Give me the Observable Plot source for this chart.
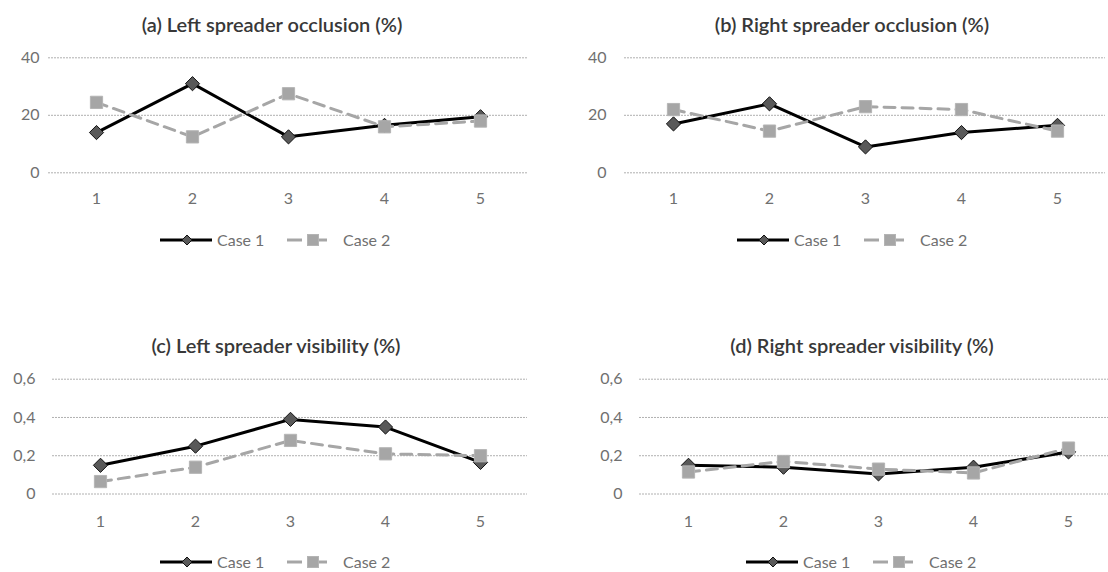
<!DOCTYPE html>
<html>
<head>
<meta charset="utf-8">
<script src="https://cdn.jsdelivr.net/npm/d3@7"></script>
<script src="https://cdn.jsdelivr.net/npm/@observablehq/plot@0.6"></script>
<style>
  html, body { margin: 0; padding: 0; background: #fff; overflow: hidden; }
  #chart { position: relative; width: 1108px; height: 572px; overflow: hidden; font-family: Lato, "Open Sans", sans-serif; }
  .title { position: absolute; width: 400px; text-align: center; font-size: 20px; font-weight: 600; color: #383838; line-height: 22px; white-space: nowrap; }
  .legend-text { position: absolute; font-size: 16px; color: #707070; line-height: 18px; white-space: nowrap; }
  .swatch { position: absolute; }
  .panel { position: absolute; }
  .panel svg { max-width: none !important; }
</style>
</head>
<body>
<div id="chart"></div>
<script>
// ---- data ----
const categories = [1, 2, 3, 4, 5];
const seriesNames = ["Case 1", "Case 2"];

const titles = [
  "(a) Left spreader occlusion (%)",
  "(b) Right spreader occlusion (%)",
  "(c) Left spreader visibility (%)",
  "(d) Right spreader visibility (%)"
];

const leftOcclusionCase1 = [14, 31, 12.5, 16.5, 19.5];
const leftOcclusionCase2 = [24.5, 12.5, 27.5, 16, 18];
const rightOcclusionCase1 = [17, 24, 9, 14, 16.5];
const rightOcclusionCase2 = [22, 14.5, 23, 22, 14.5];
const leftVisibilityCase1 = [0.15, 0.25, 0.39, 0.35, 0.165];
const leftVisibilityCase2 = [0.065, 0.14, 0.28, 0.21, 0.2];
const rightVisibilityCase1 = [0.15, 0.14, 0.105, 0.14, 0.22];
const rightVisibilityCase2 = [0.115, 0.17, 0.13, 0.11, 0.24];

const occlusionTicks = [0, 20, 40];
const visibilityTicks = [0, 0.2, 0.4, 0.6];

// ---- drawing ----
const chart = document.getElementById("chart");
const toRows = (vals) => categories.map((c, i) => ({cat: c, v: vals[i]}));
const commaFmt = (d) => d === 0 ? "0" : d.toFixed(1).replace(".", ",");

function panel(opts) {
  const {c1, c2, ticks, yMax, fmt, left, top, width, height, ml, mr, mt, mb, yPad, xPad, title, titleCx, titleCy, legX, legY} = opts;
  const d1 = toRows(c1), d2 = toRows(c2);
  const svg = Plot.plot({
    width, height,
    marginLeft: ml, marginRight: mr, marginTop: mt, marginBottom: mb,
    style: {fontFamily: "Lato, 'Open Sans', sans-serif", fontSize: "16px", color: "#707070", background: "transparent"},
    x: {type: "point", domain: categories, padding: 0.5, label: null},
    y: {domain: [0, yMax], label: null},
    marks: [
      Plot.ruleY(ticks, {stroke: "#b0b0b0", strokeWidth: 1, strokeDasharray: "2,1"}),
      Plot.axisY({ticks, tickSize: 0, tickPadding: yPad, tickFormat: fmt, fill: "#707070", label: null}),
      Plot.axisX({tickSize: 0, tickPadding: xPad, fill: "#707070", label: null}),
      Plot.line(d1, {x: "cat", y: "v", stroke: "#000", strokeWidth: 3}),
      Plot.dot(d1, {x: "cat", y: "v", symbol: "diamond2", r: 6.4, fill: "#595959", stroke: "#111", strokeWidth: 1}),
      Plot.line(d2, {x: "cat", y: "v", stroke: "#a6a6a6", strokeWidth: 3, strokeDasharray: "11,7"}),
      Plot.dot(d2, {x: "cat", y: "v", symbol: "square", r: 6.9, fill: "#a6a6a6", stroke: "#b4b4b4", strokeWidth: 1})
    ]
  });
  const div = document.createElement("div");
  div.className = "panel";
  div.style.left = left + "px";
  div.style.top = top + "px";
  div.style.width = width + "px";
  div.style.height = height + "px";
  div.appendChild(svg);
  chart.appendChild(div);

  const t = document.createElement("div");
  t.className = "title";
  t.textContent = title;
  t.style.left = (titleCx - 200) + "px";
  t.style.top = (titleCy - 11) + "px";
  chart.appendChild(t);

  // legend
  const ns = "http://www.w3.org/2000/svg";
  const sw1 = document.createElementNS(ns, "svg");
  sw1.setAttribute("class", "swatch");
  sw1.setAttribute("width", 54); sw1.setAttribute("height", 16);
  sw1.style.left = legX + "px"; sw1.style.top = (legY - 8) + "px";
  sw1.innerHTML = `<line x1="0" y1="8" x2="52" y2="8" stroke="#000" stroke-width="3"/>
    <path d="M27,3 L32,8 L27,13 L22,8 Z" fill="#595959" stroke="#111" stroke-width="1"/>`;
  chart.appendChild(sw1);
  const l1 = document.createElement("div");
  l1.className = "legend-text"; l1.textContent = seriesNames[0];
  l1.style.left = (legX + 57) + "px"; l1.style.top = (legY - 9) + "px";
  chart.appendChild(l1);
  const sw2 = document.createElementNS(ns, "svg");
  sw2.setAttribute("class", "swatch");
  sw2.setAttribute("width", 42); sw2.setAttribute("height", 16);
  sw2.style.left = (legX + 127) + "px"; sw2.style.top = (legY - 8) + "px";
  sw2.innerHTML = `<line x1="0" y1="8" x2="15" y2="8" stroke="#a6a6a6" stroke-width="3"/>
    <line x1="31" y1="8" x2="40" y2="8" stroke="#a6a6a6" stroke-width="3"/>
    <rect x="20.5" y="2.5" width="11" height="11" fill="#a6a6a6" stroke="#b4b4b4" stroke-width="1"/>`;
  chart.appendChild(sw2);
  const l2 = document.createElement("div");
  l2.className = "legend-text"; l2.textContent = seriesNames[1];
  l2.style.left = (legX + 183) + "px"; l2.style.top = (legY - 9) + "px";
  chart.appendChild(l2);
}

panel({c1: leftOcclusionCase1, c2: leftOcclusionCase2, ticks: occlusionTicks, yMax: 40, fmt: d => String(d),
  left: 0, top: 0, width: 554, height: 260, ml: 48, mr: 26, mt: 57.3, mb: 87.7, yPad: 9, xPad: 20,
  title: titles[0], titleCx: 272, titleCy: 24, legX: 160, legY: 240});
panel({c1: rightOcclusionCase1, c2: rightOcclusionCase2, ticks: occlusionTicks, yMax: 40, fmt: d => String(d),
  left: 554, top: 0, width: 554, height: 260, ml: 70, mr: 3, mt: 57.3, mb: 87.7, yPad: 18, xPad: 20,
  title: titles[1], titleCx: 852, titleCy: 24, legX: 737, legY: 240});
panel({c1: leftVisibilityCase1, c2: leftVisibilityCase2, ticks: visibilityTicks, yMax: 0.6, fmt: commaFmt,
  left: 0, top: 320, width: 554, height: 252, ml: 52, mr: 27, mt: 58.7, mb: 78.5, yPad: 17, xPad: 22,
  title: titles[2], titleCx: 276, titleCy: 345, legX: 160, legY: 562});
panel({c1: rightVisibilityCase1, c2: rightVisibilityCase2, ticks: visibilityTicks, yMax: 0.6, fmt: commaFmt,
  left: 554, top: 320, width: 562, height: 252, ml: 85, mr: 0, mt: 58.7, mb: 78.5, yPad: 17, xPad: 22,
  title: titles[3], titleCx: 862, titleCy: 345, legX: 746, legY: 562});
</script>
</body>
</html>
